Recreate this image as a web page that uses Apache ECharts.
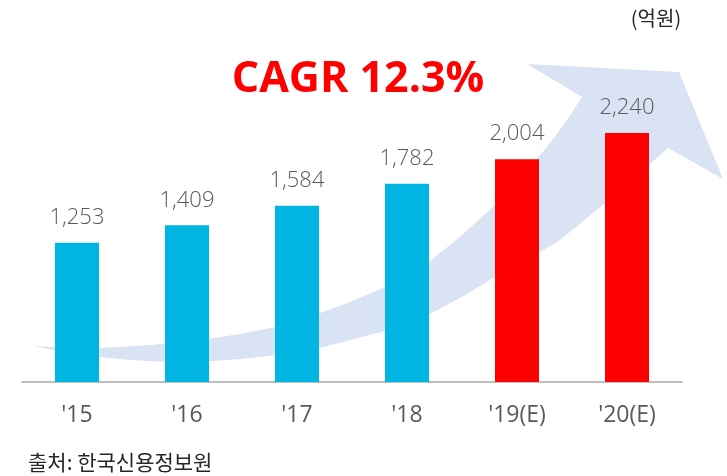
<!DOCTYPE html>
<html><head><meta charset="utf-8">
<script src="https://cdn.jsdelivr.net/npm/echarts@6/dist/echarts.min.js"></script>
<style>html,body{margin:0;padding:0;background:#fff}#c{width:727px;height:476px}</style>
</head><body><div id="c"></div>
<script>
var categories = ["'15", "'16", "'17", "'18", "'19(E)", "'20(E)"];
var values = [1253, 1409, 1584, 1782, 2004, 2240];
var estimated = [false, false, false, false, true, true];
var unitLabel = '(억원)';
var cagrLabel = 'CAGR 12.3%';
var sourceLabel = '출처: 한국신용정보원';

var arrowPts = [[32,346],[70,348],[100,348],[150,345],[200,340],[240,334],[275,327],[300,320],[320,313],[350,302],[385,287],[430,261],[460,237],[495,205],[520,178],[547,147],[565,123],[582,97],[527,64],[679,72],[723,179],[668,148],[615,195],[560,240],[530,258],[495,277],[460,298],[430,314],[385,331],[350,340],[320,348],[280,355],[240,359],[200,362],[167,362],[130,360],[100,357],[60,351]];

var chart = echarts.init(document.getElementById('c'));
chart.setOption({
  animation: false,
  grid: {left: 22, right: 45, top: 104, bottom: 94},
  xAxis: {
    type: 'category', data: categories,
    axisLine: {lineStyle: {color: '#bfbfbf', width: 2}},
    axisTick: {show: false},
    axisLabel: {color: '#595959', fontSize: 23, fontFamily: 'Open Sans', margin: 22}
  },
  yAxis: {type: 'value', min: 0, max: 2500, show: false, splitLine: {show: false}},
  graphic: [
    {type: 'polygon', z: 0, shape: {points: arrowPts}, style: {fill: '#dae3f3'}},
    {type: 'text', z: 10, style: {text: cagrLabel, x: 358, y: 80, fill: '#ff0000', font: 'bold 43px "Open Sans"', textAlign: 'center', textVerticalAlign: 'middle'}},
    {type: 'text', z: 10, style: {text: unitLabel, x: 656, y: 18, fill: '#262626', font: '20px "Noto Sans CJK KR"', textAlign: 'center', textVerticalAlign: 'middle'}},
    {type: 'text', z: 10, style: {text: sourceLabel, x: 28, y: 462, fill: '#262626', font: '21px "Noto Sans CJK KR"', textAlign: 'left', textVerticalAlign: 'middle'}}
  ],
  series: [{
    type: 'bar', barWidth: 44, z: 5,
    data: values.map(function(v, i){ return {value: v, itemStyle: {color: estimated[i] ? '#ff0000' : '#00b5e2'}}; }),
    label: {
      show: true, position: 'top', distance: 14, color: '#595959', fontSize: 22,
      fontFamily: 'Open Sans', fontWeight: 300,
      formatter: function(p){ return p.value.toLocaleString('en-US'); }
    }
  }]
});
</script></body></html>
